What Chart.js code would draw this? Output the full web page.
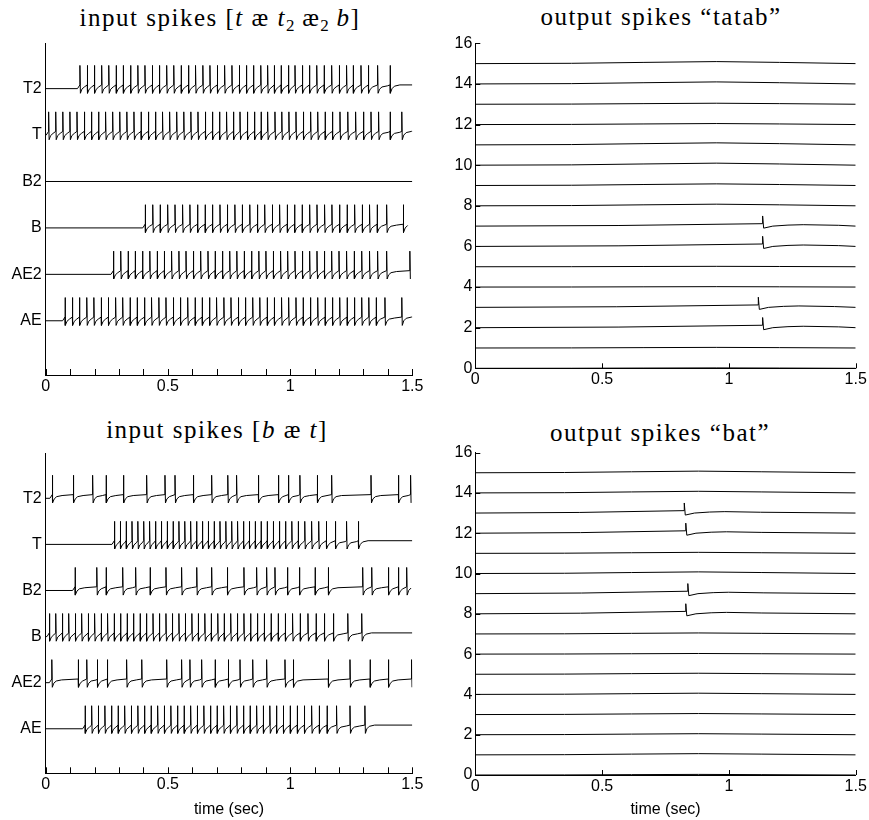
<!DOCTYPE html>
<html>
<head>
<meta charset="utf-8">
<script src="https://cdn.jsdelivr.net/npm/chart.js@4.4.1/dist/chart.umd.min.js"></script>
<style>
  html, body { margin: 0; padding: 0; background: #fff; }
  #wrap { position: relative; width: 869px; height: 820px; overflow: hidden; }
  canvas { position: absolute; }
  .ttl {
    position: absolute; white-space: nowrap; transform: translate(-50%, -50%);
    font-family: "Liberation Serif", "DejaVu Serif", serif; font-size: 25px; color: #000;
    letter-spacing: 1.5px;
  }
  .ttl sub { font-size: 17px; vertical-align: -5px; line-height: 0; letter-spacing: 0; }
</style>
</head>
<body>
<div id="wrap">
  <div class="ttl" style="left:220px; top:18px;">input spikes [<i>t</i> æ <i>t</i><sub>2</sub> æ<sub>2</sub> <i>b</i>]</div>
  <div class="ttl" style="left:661px; top:17px;">output spikes “tatab”</div>
  <div class="ttl" style="left:217px; top:430px;">input spikes [<i>b</i> æ <i>t</i>]</div>
  <div class="ttl" style="left:660px; top:433px;">output spikes “bat”</div>
  <canvas id="tl" width="432" height="370" style="left:0px; top:30px;"></canvas>
  <canvas id="tr" width="437" height="370" style="left:432px; top:30px;"></canvas>
  <canvas id="bl" width="432" height="380" style="left:0px; top:440px;"></canvas>
  <canvas id="br" width="437" height="380" style="left:432px; top:440px;"></canvas>
</div>
<script>
// channel names, bottom to top
const channelNames = ["AE", "AE2", "B", "B2", "T", "T2"];

// input spike times (sec), sentence "t ae t2 ae2 b"
const tatabAE = [0.079, 0.109, 0.138, 0.168, 0.197, 0.227, 0.256, 0.286, 0.315, 0.345, 0.374, 0.404, 0.433, 0.463, 0.492, 0.522, 0.551, 0.581, 0.611, 0.640, 0.670, 0.699, 0.729, 0.758, 0.788, 0.817, 0.847, 0.876, 0.906, 0.935, 0.965, 0.994, 1.024, 1.053, 1.083, 1.113, 1.143, 1.173, 1.203, 1.233, 1.263, 1.293, 1.322, 1.352, 1.388, 1.457];
const tatabAE2 = [0.277, 0.307, 0.337, 0.366, 0.396, 0.426, 0.456, 0.485, 0.515, 0.545, 0.574, 0.604, 0.634, 0.664, 0.693, 0.723, 0.753, 0.782, 0.812, 0.842, 0.872, 0.901, 0.931, 0.961, 0.990, 1.020, 1.050, 1.080, 1.110, 1.140, 1.170, 1.200, 1.231, 1.262, 1.293, 1.325, 1.358, 1.395, 1.490];
const tatabB = [0.407, 0.438, 0.468, 0.499, 0.529, 0.560, 0.590, 0.621, 0.652, 0.682, 0.713, 0.743, 0.774, 0.804, 0.835, 0.866, 0.896, 0.927, 0.957, 0.988, 1.018, 1.049, 1.080, 1.110, 1.141, 1.171, 1.202, 1.233, 1.264, 1.295, 1.325, 1.356, 1.395, 1.463];
const tatabB2 = [];
const tatabT = [0.012, 0.041, 0.070, 0.099, 0.128, 0.158, 0.187, 0.216, 0.245, 0.274, 0.303, 0.332, 0.361, 0.390, 0.420, 0.449, 0.478, 0.507, 0.536, 0.565, 0.594, 0.623, 0.653, 0.682, 0.711, 0.740, 0.768, 0.795, 0.825, 0.854, 0.881, 0.908, 0.938, 0.966, 0.995, 1.024, 1.054, 1.084, 1.113, 1.143, 1.173, 1.204, 1.236, 1.268, 1.300, 1.331, 1.362, 1.409, 1.457];
const tatabT2 = [0.140, 0.170, 0.199, 0.229, 0.258, 0.288, 0.317, 0.347, 0.377, 0.406, 0.436, 0.465, 0.495, 0.524, 0.554, 0.584, 0.613, 0.643, 0.672, 0.702, 0.732, 0.762, 0.792, 0.821, 0.850, 0.880, 0.908, 0.935, 0.963, 0.993, 1.020, 1.050, 1.079, 1.109, 1.139, 1.170, 1.201, 1.231, 1.258, 1.290, 1.320, 1.358, 1.409];

// input spike times (sec), sentence "b ae t"
const batAE = [0.161, 0.188, 0.215, 0.242, 0.269, 0.296, 0.323, 0.350, 0.377, 0.404, 0.431, 0.458, 0.485, 0.512, 0.539, 0.566, 0.593, 0.620, 0.647, 0.674, 0.701, 0.728, 0.755, 0.782, 0.809, 0.836, 0.863, 0.890, 0.917, 0.944, 0.972, 1.000, 1.029, 1.058, 1.088, 1.119, 1.151, 1.190, 1.245, 1.306];
const batAE2 = [0.025, 0.133, 0.168, 0.211, 0.252, 0.331, 0.393, 0.495, 0.556, 0.590, 0.638, 0.693, 0.747, 0.795, 0.847, 0.904, 0.979, 1.013, 1.156, 1.245, 1.327, 1.402, 1.497];
const batB = [0.015, 0.041, 0.068, 0.094, 0.121, 0.147, 0.174, 0.200, 0.227, 0.253, 0.280, 0.306, 0.333, 0.359, 0.386, 0.412, 0.439, 0.465, 0.492, 0.518, 0.545, 0.571, 0.598, 0.624, 0.651, 0.677, 0.704, 0.730, 0.757, 0.784, 0.811, 0.838, 0.866, 0.894, 0.922, 0.951, 0.980, 1.010, 1.041, 1.073, 1.106, 1.140, 1.177, 1.236, 1.293];
const batB2 = [0.120, 0.209, 0.247, 0.315, 0.368, 0.427, 0.492, 0.556, 0.618, 0.679, 0.743, 0.811, 0.863, 0.904, 0.938, 0.989, 1.038, 1.102, 1.156, 1.297, 1.334, 1.402, 1.443, 1.477];
const batT = [0.281, 0.305, 0.329, 0.353, 0.377, 0.401, 0.425, 0.449, 0.473, 0.497, 0.521, 0.545, 0.569, 0.593, 0.617, 0.641, 0.665, 0.689, 0.713, 0.737, 0.761, 0.785, 0.809, 0.833, 0.857, 0.881, 0.906, 0.931, 0.956, 0.981, 1.007, 1.033, 1.060, 1.088, 1.117, 1.148, 1.185, 1.231, 1.279];
const batT2 = [0.027, 0.113, 0.192, 0.247, 0.318, 0.413, 0.488, 0.529, 0.604, 0.679, 0.745, 0.781, 0.870, 0.952, 0.993, 1.040, 1.111, 1.170, 1.331, 1.443, 1.493];

// output layer: 16 channels (0..15)
const tatabSpikeCh = [2, 3, 6, 7];
const tatabSpikeT = [1.133, 1.116, 1.133, 1.133];
const tatabHumpAmp = [0.02, 0.03, 0, 0, 0.02, 0.02, 0, 0, 0.08, 0.08, 0.1, 0.1, 0.05, 0.05, 0.1, 0.1];
const tatabHumpPeak = 0.95;

const batSpikeCh = [8, 9, 12, 13];
const batSpikeT = [0.830, 0.838, 0.830, 0.824];
const batHumpAmp = [0.03, 0.06, 0.05, 0.05, 0.06, 0.05, 0.03, 0.05, 0, 0, 0.08, 0.05, 0, 0, 0.08, 0.08];
const batHumpPeak = 0.88;

// ticks
const leftXTicks = [0, 0.1, 0.2, 0.3, 0.4, 0.5, 0.6, 0.7, 0.8, 0.9, 1, 1.1, 1.2, 1.3, 1.4, 1.5];
const rightXTicks = [0, 0.5, 1, 1.5];
const rightYTicks = [0, 2, 4, 6, 8, 10, 12, 14, 16];
const leftYTicks = [1, 2, 3, 4, 5, 6];

// waveform levels relative to channel baseline
const REST = 0, THR = 0.08, TOP = 0.5, TROUGH = -0.1, PLAT = 0.06, END_LEVEL = 0.08;

function inputTrace(base, times) {
  const pts = [{ x: 0, y: base + REST }];
  if (!times.length) { pts.push({ x: 1.5, y: base + REST }); return pts; }
  for (let i = 0; i < times.length; i++) {
    const ts = times[i];
    const last = i === times.length - 1;
    const tn = last ? 1.5 : times[i + 1];
    if (i === 0 && ts - 0.01 > 0) pts.push({ x: ts - 0.01, y: base + REST });
    pts.push({ x: ts, y: base + THR });
    pts.push({ x: ts, y: base + TOP });
    pts.push({ x: ts + 0.002, y: base + TROUGH });
    const plat = last ? END_LEVEL : PLAT;
    [[0.008, 0.55], [0.018, 0.85], [0.04, 1]].forEach(([dt, f]) => {
      if (ts + dt < tn - 0.002) pts.push({ x: ts + dt, y: base + TROUGH + f * (plat - TROUGH) });
    });
    if (last && ts + 0.04 < 1.5) pts.push({ x: 1.5, y: base + plat });
  }
  return pts;
}

function humpTrace(base, amp, peak) {
  return [
    { x: 0, y: base },
    { x: peak * 0.4, y: base + 0.15 * amp },
    { x: peak * 0.7, y: base + 0.6 * amp },
    { x: peak, y: base + amp },
    { x: peak + 0.25, y: base + 0.6 * amp },
    { x: 1.5, y: base }
  ];
}

function outSpikeTrace(base, ts) {
  return [
    { x: 0, y: base },
    { x: ts * 0.5, y: base + 0.03 },
    { x: ts, y: base + 0.12 },
    { x: ts, y: base + 0.5 },
    { x: ts + 0.004, y: base - 0.1 },
    { x: ts + 0.04, y: base },
    { x: ts + 0.1, y: base + 0.05 },
    { x: ts + 0.16, y: base + 0.07 },
    { x: ts + 0.3, y: base + 0.04 },
    { x: 1.5, y: base }
  ];
}

function lineSet(pts) {
  return { data: pts, borderColor: "#000", borderWidth: 1, pointRadius: 0, fill: false, tension: 0 };
}

const inwardTicks = {
  id: "inwardTicks",
  afterDraw(chart, args, opts) {
    const { ctx, chartArea, scales } = chart;
    ctx.save();
    ctx.strokeStyle = "#000";
    ctx.lineWidth = 1;
    ctx.beginPath();
    scales.x.ticks.forEach(t => {
      const px = Math.round(scales.x.getPixelForValue(t.value)) + 0.5;
      ctx.moveTo(px, chartArea.bottom);
      ctx.lineTo(px, chartArea.bottom - opts.xLen);
    });
    if (opts.yLen) {
      scales.y.ticks.forEach(t => {
        const py = Math.round(scales.y.getPixelForValue(t.value)) + 0.5;
        ctx.moveTo(chartArea.left, py);
        ctx.lineTo(chartArea.left + opts.yLen, py);
      });
    }
    ctx.stroke();
    ctx.restore();
  }
};

const FONT = "'Liberation Sans', Arial, sans-serif";

function makeChart(id, cfg) {
  const xTitle = cfg.xTitle
    ? { display: true, text: cfg.xTitle, color: "#000", font: { family: FONT, size: 16 }, padding: { top: 0, bottom: 1 } }
    : { display: false };
  new Chart(document.getElementById(id), {
    type: "line",
    data: { datasets: cfg.datasets },
    options: {
      responsive: false,
      animation: false,
      devicePixelRatio: 1,
      layout: { padding: { left: 0, top: cfg.padTop, right: cfg.padRight, bottom: 0 } },
      plugins: {
        legend: { display: false },
        tooltip: { enabled: false },
        inwardTicks: { xLen: cfg.xTickLen, yLen: cfg.yTickLen }
      },
      scales: {
        x: {
          type: "linear", min: 0, max: 1.5,
          afterBuildTicks: s => { s.ticks = cfg.xTicks.map(v => ({ value: v })); },
          afterFit: s => { s.height = cfg.xH; },
          grid: { display: false, drawTicks: false },
          border: { display: true, color: "#000", width: 1 },
          ticks: {
            autoSkip: false, maxRotation: 0, padding: 2, color: "#000",
            font: { family: FONT, size: 16 },
            callback: v => (Math.abs(v * 2 - Math.round(v * 2)) < 1e-6 ? String(v) : "")
          },
          title: xTitle
        },
        y: {
          type: "linear", min: cfg.yMin, max: cfg.yMax,
          afterBuildTicks: s => { s.ticks = cfg.yTicks.map(v => ({ value: v })); },
          afterFit: s => { s.width = cfg.yW; },
          grid: { display: false, drawTicks: false },
          border: { display: true, color: "#000", width: 1 },
          ticks: {
            autoSkip: false, padding: cfg.yPad, color: "#000",
            font: { family: FONT, size: cfg.yFont },
            callback: cfg.yLabel
          }
        }
      }
    },
    plugins: [inwardTicks]
  });
}

const tatabInputs = [tatabAE, tatabAE2, tatabB, tatabB2, tatabT, tatabT2];
const batInputs = [batAE, batAE2, batB, batB2, batT, batT2];

function outputSets(spikeCh, spikeT, humpAmp, peak) {
  const sets = [];
  for (let ch = 0; ch < 16; ch++) {
    const k = spikeCh.indexOf(ch);
    sets.push(lineSet(k >= 0 ? outSpikeTrace(ch, spikeT[k]) : humpTrace(ch, humpAmp[ch], peak)));
  }
  return sets;
}

const nameLabel = v => channelNames[Math.round(v) - 1] || "";
const numLabel = v => String(v);

makeChart("tl", {
  datasets: tatabInputs.map((t, i) => lineSet(inputTrace(i + 1, t))),
  padTop: 11, padRight: 19.7, yW: 45.7, xH: 25,
  yMin: -0.168, yMax: 6.97, yTicks: leftYTicks, yLabel: nameLabel, yFont: 16, yPad: 4,
  xTicks: leftXTicks, xTickLen: 6, yTickLen: 0
});
makeChart("bl", {
  datasets: batInputs.map((t, i) => lineSet(inputTrace(i + 1, t))),
  padTop: 10, padRight: 19.7, yW: 45.7, xH: 46.7,
  yMin: 0.034, yMax: 6.97, yTicks: leftYTicks, yLabel: nameLabel, yFont: 16, yPad: 4,
  xTicks: leftXTicks, xTickLen: 6, yTickLen: 0, xTitle: "time (sec)"
});
makeChart("tr", {
  datasets: outputSets(tatabSpikeCh, tatabSpikeT, tatabHumpAmp, tatabHumpPeak),
  padTop: 13.3, padRight: 13.3, yW: 43.3, xH: 31.7,
  yMin: 0, yMax: 16, yTicks: rightYTicks, yLabel: numLabel, yFont: 16, yPad: 3,
  xTicks: rightXTicks, xTickLen: 5, yTickLen: 5
});
makeChart("br", {
  datasets: outputSets(batSpikeCh, batSpikeT, batHumpAmp, batHumpPeak),
  padTop: 11.7, padRight: 13.3, yW: 43.3, xH: 45,
  yMin: 0, yMax: 16, yTicks: rightYTicks, yLabel: numLabel, yFont: 16, yPad: 3,
  xTicks: rightXTicks, xTickLen: 5, yTickLen: 5, xTitle: "time (sec)"
});
</script>
</body>
</html>
